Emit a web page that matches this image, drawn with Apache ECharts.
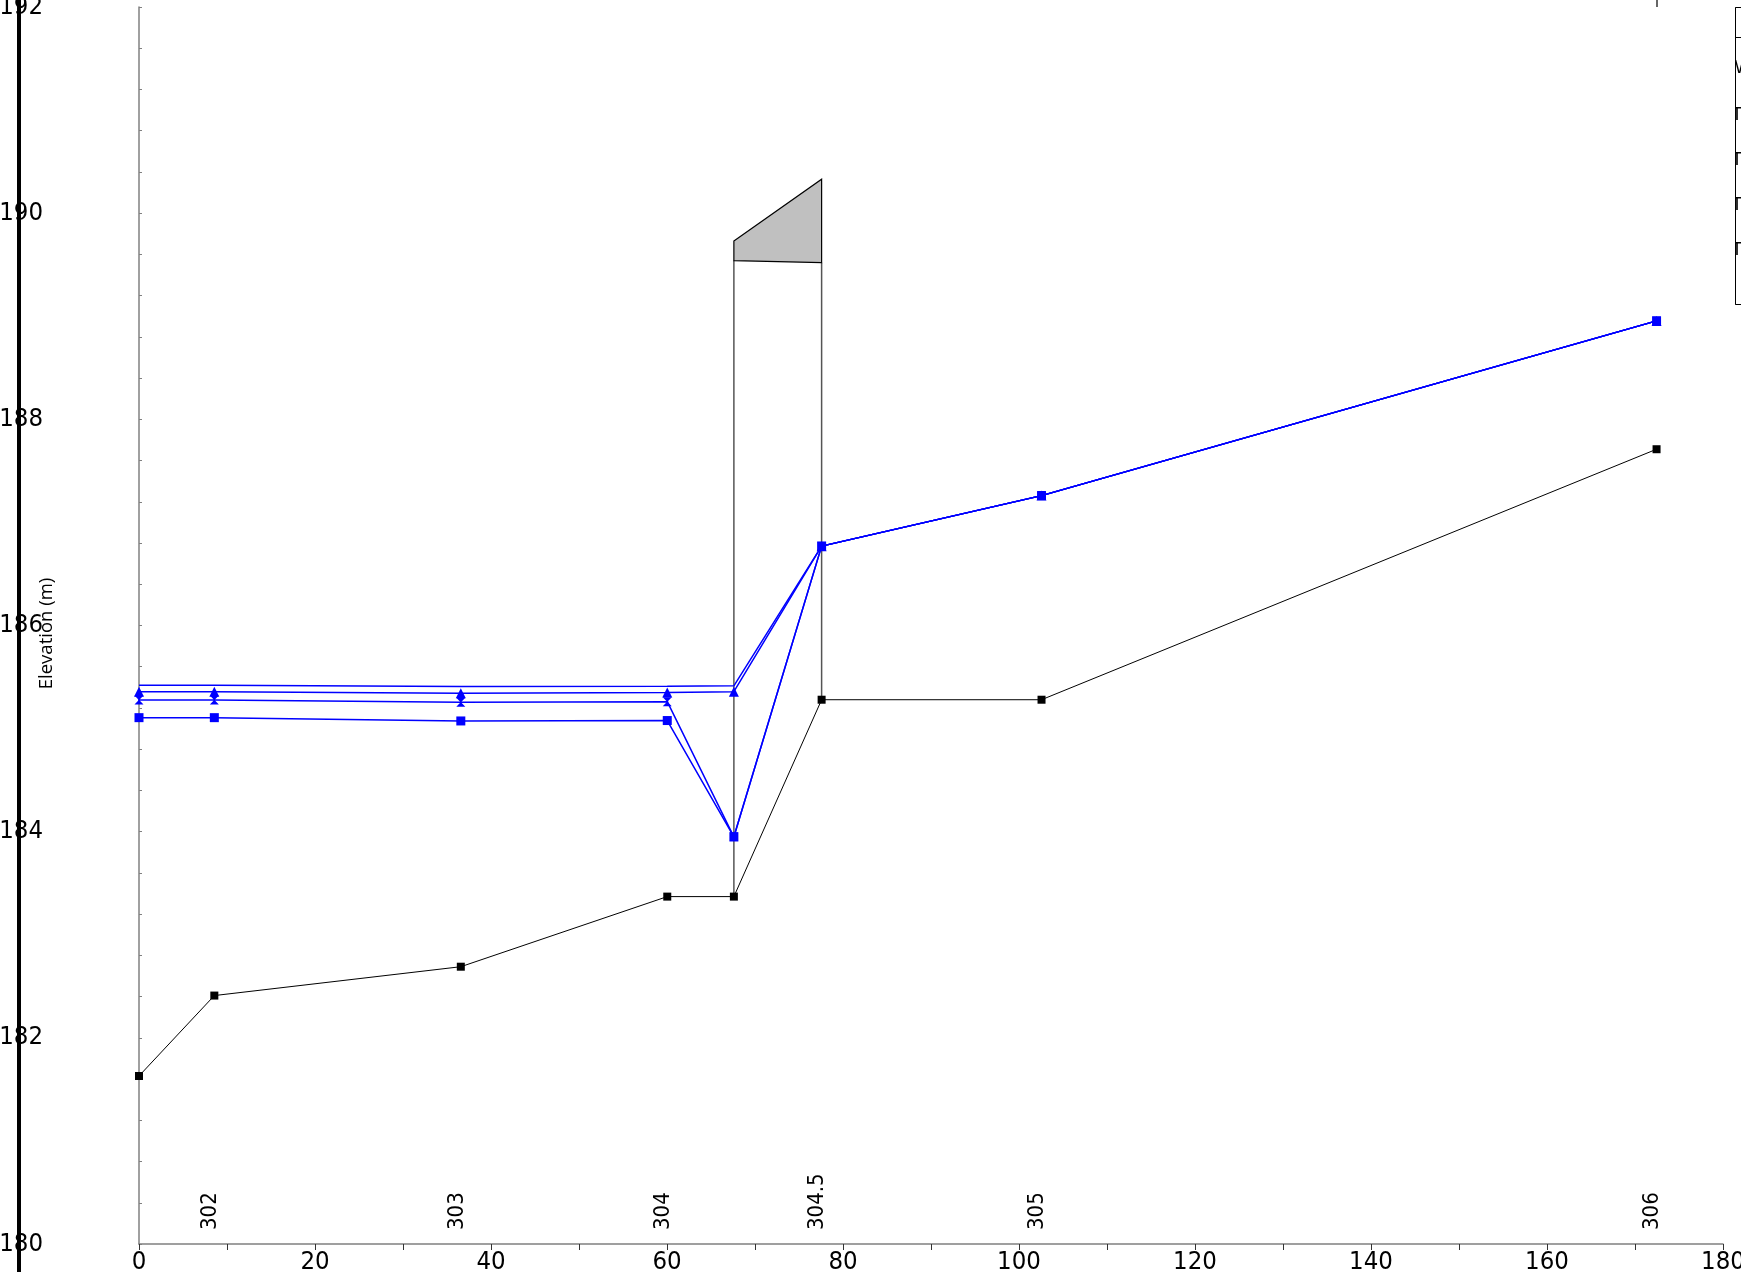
<!DOCTYPE html>
<html>
<head>
<meta charset="utf-8">
<script src="https://cdn.jsdelivr.net/npm/echarts@6/dist/echarts.min.js"></script>
<style>
html,body{margin:0;padding:0;background:#fff;}
#chart{width:1741px;height:1272px;}
</style>
</head>
<body>
<div id="chart"></div>
<script>
// ---- data ----
const stationX = [0, 8.56, 36.57, 60.03, 67.6, 77.57, 102.56, 172.45];
const groundY = [181.63, 182.41, 182.69, 183.37, 183.37, 185.28, 185.28, 187.71];
const wsPlain = [185.42, 185.42, 185.408, 185.41, 185.415, 186.77, 187.26, 188.955];
const wsTriangle = [185.358, 185.358, 185.342, 185.35, 185.358, 186.77, 187.26, 188.955];
const wsStar = [185.277, 185.277, 185.255, 185.261, 183.95, 186.77, 187.26, 188.955];
const wsSquare = [185.106, 185.106, 185.074, 185.078, 183.95, 186.77, 187.26, 188.955];

const bridgeX = [67.6, 77.57];
const bridgeHighChord = [189.73, 190.33];
const bridgeLowChord = [189.54, 189.52];
const bridgeBase = [183.37, 185.28];

const labelStations = [8.56, 36.57, 60.03, 77.57, 102.56, 172.45];
const labelNames = ['302', '303', '304', '304.5', '305', '306'];
const topTickStations = [172.45];

const legendRows = ['WS T100', 'T50', 'T25', 'T10', 'T2'];

const xTicks = [0, 180, 10];
const yTicks = [180, 192, 2];

function pairs(xs, ys) { return xs.map((x, i) => [x, ys[i]]); }

const chart = echarts.init(document.getElementById('chart'), null, {renderer: 'canvas'});
const numFont = '"DejaVu Sans Condensed", sans-serif';
const blue = '#0000ff';
const starPath = 'path://M0,0L10,0L6,4.2L6,5.8L10,10L0,10L4,5.8L4,4.2Z';

const option = {
  backgroundColor: '#ffffff',
  animation: false,
  grid: {left: 139, right: 18, top: 7, bottom: 28, containLabel: false, outerBoundsMode: 'none'},
  xAxis: [
    {
      type: 'value', min: xTicks[0], max: xTicks[1], interval: xTicks[2], position: 'bottom',
      axisLine: {show: true, onZero: false, lineStyle: {color: '#808080', width: 1.5}},
      axisTick: {show: true, length: 6, lineStyle: {color: '#333'}},
      axisLabel: {
        show: true, margin: 5, fontSize: 25.5, color: '#000', fontFamily: numFont,
        formatter: v => (Math.round(v) % 20 === 0 ? String(Math.round(v)) : '')
      },
      splitLine: {show: false}
    },
    {
      type: 'value', min: xTicks[0], max: xTicks[1], position: 'bottom',
      axisLine: {show: false}, axisTick: {show: false}, splitLine: {show: false},
      axisLabel: {
        show: true, inside: true, rotate: 90, margin: 14, fontSize: 22, color: '#000',
        fontFamily: numFont, customValues: labelStations,
        verticalAlign: 'bottom', lineHeight: 8,
        formatter: v => {
          const i = labelStations.findIndex(s => Math.abs(s - v) < 1e-6);
          return i >= 0 ? labelNames[i] : '';
        }
      }
    },
    {
      type: 'value', min: xTicks[0], max: xTicks[1], position: 'top',
      axisLine: {show: false}, splitLine: {show: false}, axisLabel: {show: false},
      axisTick: {show: true, length: 7, customValues: topTickStations, lineStyle: {color: '#333', width: 1.5}}
    }
  ],
  yAxis: [
    {
      type: 'value', min: yTicks[0], max: yTicks[1], interval: yTicks[2], position: 'left',
      axisLine: {show: true, onZero: false, lineStyle: {color: '#808080', width: 1.5}},
      axisTick: {show: true, inside: true, length: 3, lineStyle: {color: '#808080'}},
      minorTick: {show: true, splitNumber: 5, length: 3, lineStyle: {color: '#808080'}},
      axisLabel: {show: false},
      splitLine: {show: false},
      name: 'Elevation (m)', nameLocation: 'middle', nameGap: 83, nameMoveOverlap: false,
      nameTextStyle: {fontSize: 18.5, color: '#000', fontFamily: 'Open Sans', padding: [0, 16, 0, 0]}
    },
    {
      type: 'value', min: yTicks[0], max: yTicks[1], interval: yTicks[2], position: 'left', offset: 120,
      axisLine: {show: false}, axisTick: {show: false}, splitLine: {show: false},
      axisLabel: {show: true, margin: -24, fontSize: 25.5, color: '#000', fontFamily: numFont}
    }
  ],
  series: [
    {
      type: 'custom', name: 'Bridge', coordinateSystem: 'cartesian2d', xAxisIndex: 0, yAxisIndex: 0,
      data: [[bridgeX[0], bridgeHighChord[0]]], z: 2, silent: true,
      renderItem: function (params, api) {
        const hi0 = api.coord([bridgeX[0], bridgeHighChord[0]]);
        const hi1 = api.coord([bridgeX[1], bridgeHighChord[1]]);
        const lo0 = api.coord([bridgeX[0], bridgeLowChord[0]]);
        const lo1 = api.coord([bridgeX[1], bridgeLowChord[1]]);
        const b0 = api.coord([bridgeX[0], bridgeBase[0]]);
        const b1 = api.coord([bridgeX[1], bridgeBase[1]]);
        return {
          type: 'group',
          children: [
            {type: 'line', shape: {x1: b0[0], y1: b0[1], x2: lo0[0], y2: lo0[1]}, style: {stroke: '#555', lineWidth: 1.5}},
            {type: 'line', shape: {x1: b1[0], y1: b1[1], x2: lo1[0], y2: lo1[1]}, style: {stroke: '#555', lineWidth: 1.5}},
            {type: 'polygon', shape: {points: [hi0, hi1, lo1, lo0]}, style: {fill: '#c0c0c0', stroke: '#000', lineWidth: 1.2}}
          ]
        };
      }
    },
    {
      type: 'line', name: 'Ground', data: pairs(stationX, groundY), z: 3,
      lineStyle: {color: '#000', width: 1}, itemStyle: {color: '#000'},
      symbol: 'rect', symbolSize: 8, showAllSymbol: true
    },
    {
      type: 'line', name: 'WS T100', data: pairs(stationX, wsPlain), z: 4,
      lineStyle: {color: blue, width: 1.5}, symbol: 'none'
    },
    {
      type: 'line', name: 'T50', data: pairs(stationX, wsTriangle), z: 4,
      lineStyle: {color: blue, width: 1.5}, itemStyle: {color: blue},
      symbol: 'triangle', symbolSize: 10, showAllSymbol: true
    },
    {
      type: 'line', name: 'T25', data: pairs(stationX, wsStar), z: 4,
      lineStyle: {color: blue, width: 1.5}, itemStyle: {color: blue},
      symbol: starPath, symbolSize: 9, showAllSymbol: true
    },
    {
      type: 'line', name: 'T10', data: pairs(stationX, wsSquare), z: 4,
      lineStyle: {color: blue, width: 1.5}, itemStyle: {color: blue},
      symbol: 'rect', symbolSize: 9, showAllSymbol: true
    }
  ],
  graphic: [
    {type: 'line', shape: {x1: 19, y1: 0, x2: 19, y2: 1272}, style: {stroke: '#000', lineWidth: 4}, z: 1},
    {type: 'rect', shape: {x: 1735.5, y: 7.5, width: 40, height: 297}, style: {fill: '#fff', stroke: '#000', lineWidth: 1}, z: 100},
    {type: 'line', shape: {x1: 1735.5, y1: 37.5, x2: 1745, y2: 37.5}, style: {stroke: '#000', lineWidth: 1}, z: 101},
    {type: 'text', x: 1727, y: 68, style: {text: legendRows[0], font: '18px Liberation Sans', fill: '#000', verticalAlign: 'middle'}, z: 101},
    {type: 'text', x: 1731.5, y: 115, style: {text: legendRows[1], font: '18px Liberation Sans', fill: '#000', verticalAlign: 'middle'}, z: 101},
    {type: 'text', x: 1731.5, y: 160, style: {text: legendRows[2], font: '18px Liberation Sans', fill: '#000', verticalAlign: 'middle'}, z: 101},
    {type: 'text', x: 1731.5, y: 205, style: {text: legendRows[3], font: '18px Liberation Sans', fill: '#000', verticalAlign: 'middle'}, z: 101},
    {type: 'text', x: 1731.5, y: 250, style: {text: legendRows[4], font: '18px Liberation Sans', fill: '#000', verticalAlign: 'middle'}, z: 101},
    {type: 'rect', shape: {x: 1712, y: 40, width: 23, height: 262}, style: {fill: '#fff'}, z: 102},
    {type: 'line', shape: {x1: 1735.5, y1: 7.5, x2: 1735.5, y2: 304.5}, style: {stroke: '#000', lineWidth: 1}, z: 103}
  ]
};
chart.setOption(option);
</script>
</body>
</html>
